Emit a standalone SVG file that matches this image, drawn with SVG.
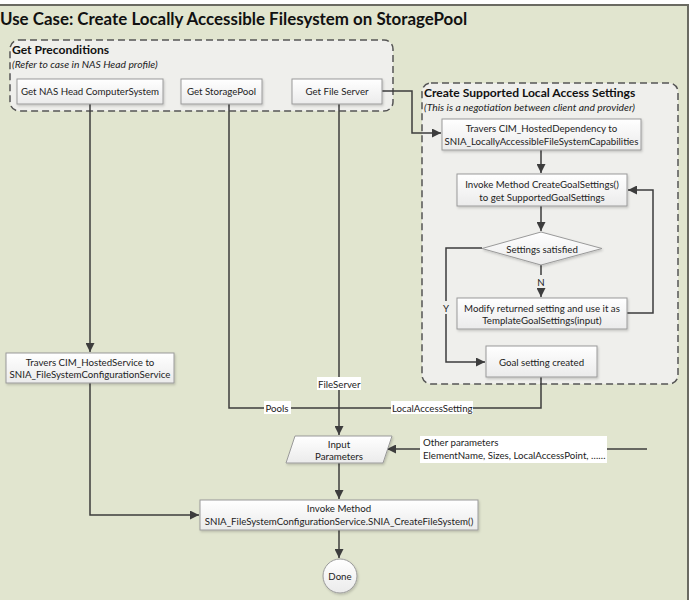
<svg xmlns="http://www.w3.org/2000/svg" width="691" height="600" viewBox="0 0 691 600">
<defs>
<linearGradient id="boxg" x1="0" y1="0" x2="0" y2="1">
<stop offset="0" stop-color="#ffffff"/>
<stop offset="1" stop-color="#ebebeb"/>
</linearGradient>
<marker id="arr" viewBox="0 0 10 10" refX="10" refY="5" markerWidth="9" markerHeight="9" markerUnits="userSpaceOnUse" orient="auto">
<path d="M0,0 L10,5 L0,10 z" fill="#3d3d3d"/>
</marker>
<filter id="sh" x="-10%" y="-10%" width="130%" height="140%">
<feDropShadow dx="1" dy="1.5" stdDeviation="1" flood-color="#000" flood-opacity="0.18"/>
</filter>
</defs>
<style>
.box{fill:url(#boxg);stroke:#9a9a9a;stroke-width:1;filter:url(#sh)}
.grp{fill:#efefec;stroke:#555;stroke-width:1.5;stroke-dasharray:7 4}
.t{font-family:Lato,"Liberation Sans",sans-serif;font-size:9.7px;fill:#222;text-anchor:middle}
.tl{font-family:Lato,"Liberation Sans",sans-serif;font-size:9.7px;fill:#222}
.h{font-family:Lato,"Liberation Sans",sans-serif;font-size:12.1px;font-weight:bold;fill:#111}
.i{font-family:Lato,"Liberation Sans",sans-serif;font-size:10.3px;font-style:italic;fill:#222}
.c{fill:none;stroke:#3d3d3d;stroke-width:1.5}
.lb{fill:#ffffff}
</style>
<rect x="-3" y="5" width="691" height="600" fill="#e1e5cf" stroke="#6a6a62" stroke-width="2"/>
<text x="0" y="25" font-family="Lato,'Liberation Sans',sans-serif" font-size="16.9" font-weight="bold" fill="#111">Use Case: Create Locally Accessible Filesystem on StoragePool</text>

<g id="grp-preconditions">
<rect class="grp" x="10" y="40" width="383" height="71" rx="9"/>
<text class="h" x="12" y="54">Get Preconditions</text>
<text class="i" x="12" y="68">(Refer to case in NAS Head profile)</text>
</g>
<g id="grp-settings">
<rect class="grp" x="422" y="83" width="256" height="301" rx="9"/>
<text class="h" x="424" y="97">Create Supported Local Access Settings</text>
<text class="i" x="424" y="111">(This is a negotiation between client and provider)</text>
</g>

<g id="connectors">
<path class="c" d="M90,104 V352" marker-end="url(#arr)"/>
<path class="c" d="M90,383 V515 H199" marker-end="url(#arr)"/>
<path class="c" d="M229,104 V408 H339"/>
<path class="c" d="M339,104 V435" marker-end="url(#arr)"/>
<path class="c" d="M541,377 V408 H339"/>
<path class="c" d="M382,91 H412 V133 H441" marker-end="url(#arr)"/>
<path class="c" d="M541,150 V173" marker-end="url(#arr)"/>
<path class="c" d="M541,206 V231" marker-end="url(#arr)"/>
<path class="c" d="M541,265 V297" marker-end="url(#arr)"/>
<path class="c" d="M482,248 H446 V362 H485" marker-end="url(#arr)"/>
<path class="c" d="M627,313 H653 V190 H628" marker-end="url(#arr)"/>
<path class="c" d="M647,449 H387" marker-end="url(#arr)"/>
<path class="c" d="M339,463 V499" marker-end="url(#arr)"/>
<path class="c" d="M339,530 V558" marker-end="url(#arr)"/>
<rect class="lb" x="264" y="401" width="27" height="13"/>
<text class="tl" x="265.5" y="411.5">Pools</text>
<rect class="lb" x="317" y="377" width="44" height="13"/>
<text class="tl" x="318" y="387.5">FileServer</text>
<rect class="lb" x="391" y="401" width="82" height="13"/>
<text class="tl" x="392" y="411.5">LocalAccessSetting</text>
<rect class="lb" x="420" y="436" width="187" height="27"/>
<text class="tl" x="423" y="446">Other parameters</text>
<text class="tl" x="423" y="459">ElementName, Sizes, LocalAccessPoint, ……</text>
<rect x="441" y="301" width="10" height="13" fill="#efefec"/>
<text class="t" x="446" y="311.5">Y</text>
<rect x="536" y="275" width="11" height="13" fill="#efefec"/>
<text class="t" x="541" y="285.5">N</text>
</g>

<g id="n-nas">
<rect class="box" x="17" y="79" width="146" height="25"/>
<text class="t" x="90" y="95">Get NAS Head ComputerSystem</text>
</g>
<g id="n-pool">
<rect class="box" x="181" y="79" width="81" height="25"/>
<text class="t" x="221.5" y="95">Get StoragePool</text>
</g>
<g id="n-fs">
<rect class="box" x="292" y="79" width="90" height="25"/>
<text class="t" x="337" y="95">Get File Server</text>
</g>
<g id="n-hosteddep">
<rect class="box" x="442" y="119" width="199" height="31"/>
<text class="t" x="541.5" y="131.5">Travers CIM_HostedDependency to</text>
<text class="t" x="541.5" y="144.5">SNIA_LocallyAccessibleFileSystemCapabilities</text>
</g>
<g id="n-creategoal">
<rect class="box" x="457" y="174" width="170" height="32"/>
<text class="t" x="542" y="187.5">Invoke Method CreateGoalSettings()</text>
<text class="t" x="542" y="200.5">to get SupportedGoalSettings</text>
</g>
<g id="n-decision">
<path class="box" d="M541,232 L602,248.5 L541,265 L482,248.5 z"/>
<text class="t" x="542" y="252.5">Settings satisfied</text>
</g>
<g id="n-modify">
<rect class="box" x="457" y="298" width="170" height="31"/>
<text class="t" x="542" y="311.5">Modify returned setting and use it as</text>
<text class="t" x="542" y="324">TemplateGoalSettings(input)</text>
</g>
<g id="n-goal">
<rect class="box" x="486" y="346" width="111" height="31"/>
<text class="t" x="541.5" y="365.5">Goal setting created</text>
</g>
<g id="n-hostedsvc">
<rect class="box" x="6" y="353" width="168" height="30"/>
<text class="t" x="90" y="365.5">Travers CIM_HostedService to</text>
<text class="t" x="90" y="378">SNIA_FileSystemConfigurationService</text>
</g>
<g id="n-input">
<path class="box" d="M295,436 L392,436 L383,463 L286,463 z"/>
<text class="t" x="339" y="447.5">Input</text>
<text class="t" x="339" y="460">Parameters</text>
</g>
<g id="n-invoke">
<rect class="box" x="200" y="500" width="278" height="30"/>
<text class="t" x="339" y="512">Invoke Method</text>
<text class="t" x="339" y="524.5">SNIA_FileSystemConfigurationService.SNIA_CreateFileSystem()</text>
</g>
<g id="n-done">
<circle class="box" cx="340" cy="576" r="17"/>
<text class="t" x="340" y="579.5">Done</text>
</g>
</svg>
